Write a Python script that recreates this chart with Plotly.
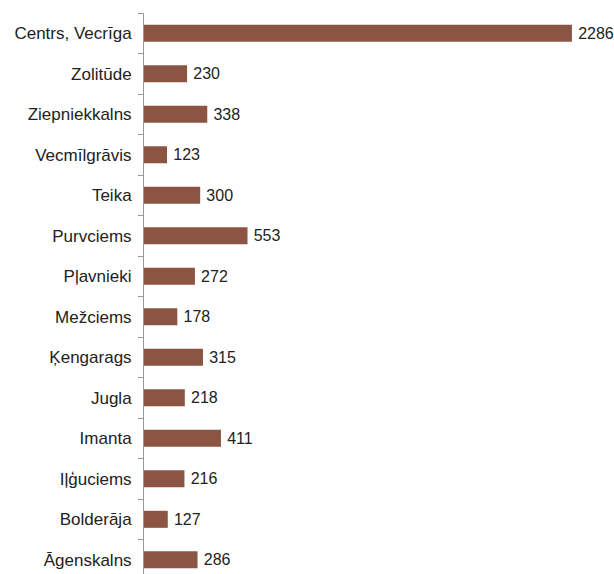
import plotly.graph_objects as go

categories = ["Centrs, Vecrīga", "Zolitūde", "Ziepniekkalns", "Vecmīlgrāvis", "Teika",
              "Purvciems", "Pļavnieki", "Mežciems", "Ķengarags", "Jugla", "Imanta",
              "Iļģuciems", "Bolderāja", "Āgenskalns"]
values = [2286, 230, 338, 123, 300, 553, 272, 178, 315, 218, 411, 216, 127, 286]

fig = go.Figure(go.Bar(
    x=values, y=categories, orientation="h",
    marker=dict(color="#8C5443", line=dict(width=0)),
    width=0.42,
    text=["\u2009" + str(v) for v in values], textposition="outside",
    textfont=dict(family="Liberation Sans, Arial", size=16, color="#222"),
    cliponaxis=False,
))

fig.update_layout(
    width=614, height=574,
    margin=dict(l=144, r=8, t=13, b=0),
    paper_bgcolor="white", plot_bgcolor="white",
    showlegend=False,
    font=dict(family="Liberation Sans, Arial", size=16, color="#222"),
    xaxis=dict(range=[0, 462 / 0.1872], visible=False, showgrid=False),
    yaxis=dict(
        categoryorder="array", categoryarray=categories,
        range=[13.35, -0.5],
        showline=True, linecolor="#999", linewidth=1,
        ticks="outside", ticklen=5, tickcolor="#999", tickson="boundaries",
        ticklabelstandoff=8,
        showgrid=False, zeroline=False,
        tickfont=dict(family="Liberation Sans, Arial", size=17, color="#222"),
    ),
)

fig.write_html("out.html")
